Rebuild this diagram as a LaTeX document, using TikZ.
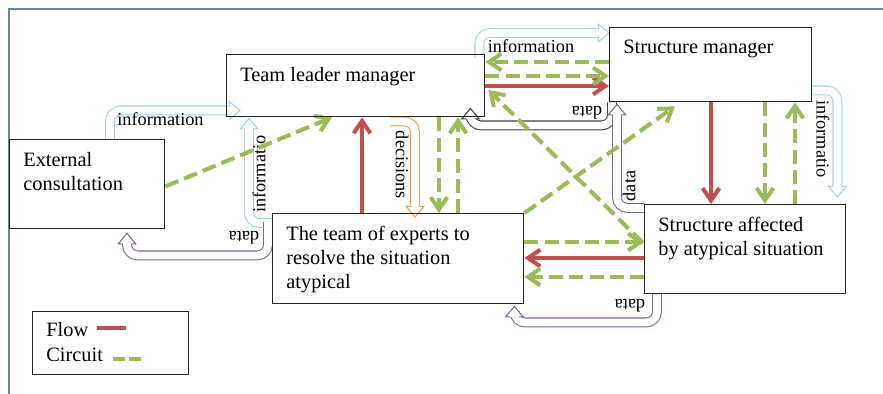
\documentclass[tikz,border=0pt]{standalone}
\usepackage{fontspec}
\setmainfont{Liberation Serif}
\usetikzlibrary{arrows.meta, calc, backgrounds}
\definecolor{cred}{HTML}{C0504D}
\definecolor{cgreen}{HTML}{9BBB59}
\definecolor{cinfo}{HTML}{9DD3E3}
\definecolor{corange}{HTML}{F79646}
\definecolor{cpurple}{HTML}{8064A2}
\definecolor{cgrey}{HTML}{404040}
\definecolor{cframe}{HTML}{6A85AD}
\tikzset{
  box/.style={draw=black!85, line width=0.8pt, anchor=north west, inner sep=0pt},
  boxtext/.style={anchor=north west, inner sep=0pt, align=left, font=\fontsize{11.6}{13.6}\selectfont},
  lbl/.style={inner sep=0pt, font=\fontsize{10.4}{12}\selectfont},
  flow/.style={draw=cred, line width=2.3pt, -{Straight Barb[length=7pt, width=9.5pt]}},
  circuit/.style={draw=cgreen, line width=2.3pt, dash pattern=on 8pt off 3.5pt, -{Straight Barb[length=7pt, width=9.5pt]}},
  hollow/.style={draw=#1, double=white, double distance=4.4pt, line width=0.6pt, rounded corners=6pt},
  pics/hhead/.style={code={
    \fill[white] (0,0) -- (-6pt,5pt) -- (-6pt,-5pt) -- cycle;
    \draw[#1, line width=0.6pt, line join=miter] (-6pt,2.5pt) -- (-6pt,5pt) -- (0,0) -- (-6pt,-5pt) -- (-6pt,-2.5pt);}},
}
\newcommand{\panel}[6]{% name, x, y, width, height, text
  \node[box, minimum width=#4*0.02cm, minimum height=#5*0.02cm] (#1) at (#2,#3) {};
  \node[boxtext] (#1-t) at ($(#1.north west)+(14,13)$) {#6};}

\begin{document}
\begin{tikzpicture}[x=0.02cm, y=-0.02cm]
  \useasboundingbox (0,0) rectangle (883,394);
  \draw[cframe, line width=0.7pt] (9,394) |- (883,9);

  % the five actors
  \panel{ext}{9}{139}{155}{89}{External\\consultation}
  \panel{tl}{226}{54}{258}{62}{Team leader manager}
  \panel{sm}{609}{27}{202}{74}{Structure manager}
  \panel{team}{272}{213}{251}{90}{The team of experts to\\resolve the situation\\atypical}
  \panel{aff}{644}{204}{201}{89}{Structure affected\\by atypical situation}

  \begin{scope}[on background layer]
  % information, decisions and data (block arrows)
  \coordinate (i1) at ($(tl.south west)+(14,-7)$);
  \draw[hollow=cinfo] ($(ext.north west)+(101,0)$) |- ($(i1)+(-10,0)$);
  \pic at (i1) {hhead=cinfo};
  \node[lbl, anchor=west] (l-i1) at ($(ext.north west)+(108,-20)$) {information};

  \coordinate (i2) at ($(tl.south west)+(23,1)$);
  \draw[hollow=cinfo] ($(team.north west)+(0,10)$) -| ($(i2)+(0,10)$);
  \pic[rotate=90] at (i2) {hhead=cinfo};
  \node[lbl, rotate=90] (l-i2) at (259,174) {informatio};

  \coordinate (d1) at ($(ext.south west)+(118,4)$);
  \draw[hollow=cpurple] ($(team.north west)+(-4,9)$) |- ($(d1)+(0,22)$) -- ($(d1)+(0,10)$);
  \pic[rotate=90] at (d1) {hhead=cpurple};
  \node[lbl, rotate=180] (l-d1) at (244,238) {data};

  \coordinate (dec) at ($(team.north west)+(143,4)$);
  \draw[hollow=corange] ($(tl.south west)+(164,4)$) -| ($(dec)+(0,-10)$);
  \pic[rotate=-90] at (dec) {hhead=corange};
  \node[lbl, rotate=-90] (l-dec) at (402,165) {decisions};

  \coordinate (i3) at ($(sm.north west)+(0,6)$);
  \draw[hollow=cinfo] ($(tl.north east)+(-6,4)$) |- ($(i3)+(-10,0)$);
  \pic at (i3) {hhead=cinfo};
  \node[lbl] (l-i3) at (531,46) {information};

  \coordinate (d2) at ($(tl.south east)+(-15,-9)$);
  \draw[hollow=cgrey] ($(sm.south west)+(3,0)$) |- ($(d2)+(0,17)$) -- ($(d2)+(0,10)$);
  \pic[rotate=90] at (d2) {hhead=cgrey};
  \node[lbl, rotate=180] (l-d2) at (587,113) {data};

  \coordinate (d3) at ($(sm.south west)+(8,2)$);
  \draw[hollow=cpurple] ($(aff.north west)+(0,4)$) -| ($(d3)+(0,10)$);
  \pic[rotate=90] at (d3) {hhead=cpurple};
  \node[lbl, rotate=90] (l-d3) at (629,186) {data};

  \coordinate (d4) at ($(team.south east)+(-10,2)$);
  \draw[hollow=cpurple] ($(aff.south west)+(13,0)$) |- ($(d4)+(0,16)$) -- ($(d4)+(0,10)$);
  \pic[rotate=90] at (d4) {hhead=cpurple};
  \node[lbl, rotate=180] (l-d4) at (630,306) {data};

  \coordinate (i4) at ($(aff.north east)+(-9,-7)$);
  \draw[hollow=cinfo] ($(sm.south east)+(0,-12)$) -| ($(i4)+(0,-10)$);
  \pic[rotate=-90] at (i4) {hhead=cinfo};
  \node[lbl, rotate=-90] (l-i4) at (823,139) {informatio};

  % flow
  \draw[flow] ($(team.north west)+(90,0)$) -- ($(tl.south west)+(136,0)$);
  \draw[flow] ($(tl.north east)+(0,32)$) -- ($(sm.north west)+(0,59)$);
  \draw[flow] ($(sm.south west)+(102,0)$) -- ($(aff.north west)+(67,0)$);
  \draw[flow] ($(aff.north west)+(0,54)$) -- ($(team.north east)+(0,45)$);

  % circuit
  \draw[circuit] ($(ext.south east)+(0,-43)$) -- ($(tl.south west)+(106,0)$);
  \draw[circuit] ($(tl.south west)+(213,0)$) -- ($(team.north west)+(167,0)$);
  \draw[circuit] ($(team.north west)+(186,0)$) -- ($(tl.south west)+(232,0)$);
  \draw[circuit] ($(sm.north west)+(0,35)$) -- ($(tl.north east)+(0,8)$);
  \draw[circuit] ($(tl.north east)+(0,22)$) -- ($(sm.north west)+(0,49)$);
  \draw[circuit] ($(aff.north west)+(-1,39)$) -- ($(tl.north east)+(3,36)$);
  \draw[circuit] (team.north east) -- ($(sm.south west)+(66,4)$);
  \draw[circuit] ($(sm.south west)+(156,0)$) -- ($(aff.north west)+(121,0)$);
  \draw[circuit] ($(aff.north west)+(151,0)$) -- ($(sm.south west)+(186,0)$);
  \draw[circuit] ($(team.north east)+(0,29)$) -- ($(aff.north west)+(0,38)$);
  \draw[circuit] ($(aff.north west)+(0,73)$) -- ($(team.north east)+(0,64)$);
  \end{scope}

  % legend
  \node[box, minimum width=156*0.02cm, minimum height=63*0.02cm] (leg) at (32,311) {};
  \node[boxtext, anchor=west] (flow) at ($(leg.north west)+(14,19)$) {Flow};
  \node[boxtext, anchor=west] (circ) at ($(leg.north west)+(14,44)$) {Circuit};
  \draw[cred, line width=2.3pt] ($(flow.east)+(8,-2)$) -- ++(29,0);
  \draw[circuit, -, dash pattern=on 6.5pt off 2.5pt] ($(circ.east)+(10,4)$) -- ++(29,0);
\end{tikzpicture}
\end{document}
